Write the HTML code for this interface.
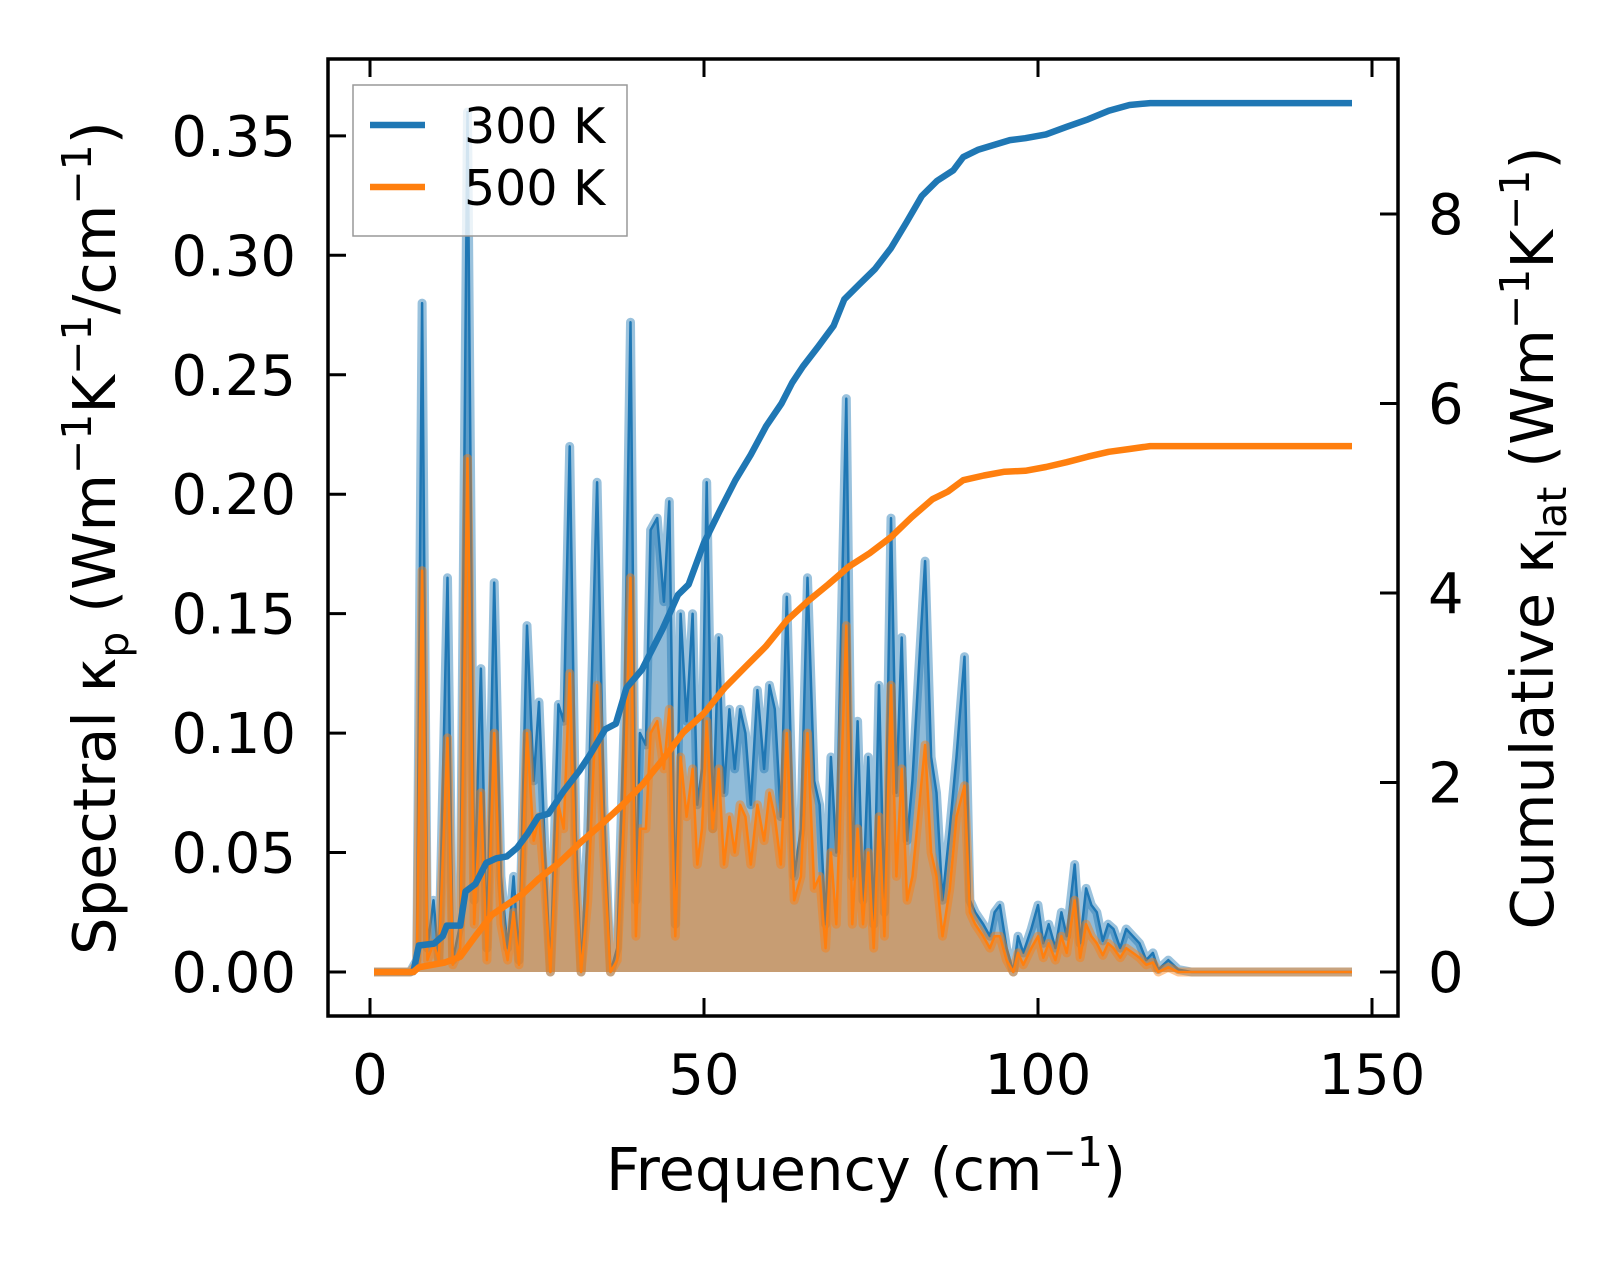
<!DOCTYPE html>
<html><head><meta charset="utf-8"><style>
body{margin:0;background:#fff}
svg text{font-family:"DejaVu Sans","Liberation Sans",sans-serif;fill:#000}
</style></head><body>
<svg id="chart" width="1623" height="1264" viewBox="0 0 1623 1264" xmlns="http://www.w3.org/2000/svg">
<defs><clipPath id="plotclip"><rect x="328" y="59" width="1070" height="957"/></clipPath></defs>
<rect x="0" y="0" width="1623" height="1264" fill="#fff"/>
<g id="marks" clip-path="url(#plotclip)"></g>
<g id="axes"></g>
<rect x="328" y="59" width="1070" height="957" fill="none" stroke="#000" stroke-width="3.5"/>
<g>
<rect x="353" y="85" width="274" height="151" fill="#fff" fill-opacity="0.8" stroke="#999" stroke-width="1.5"/>
<line x1="370" y1="125" x2="425" y2="125" stroke="#1f77b4" stroke-width="6.5"/>
<text x="464" y="143" font-size="49">300 K</text>
<line x1="370" y1="187" x2="425" y2="187" stroke="#ff7f0e" stroke-width="6.5"/>
<text x="464" y="205" font-size="49">500 K</text>
</g>
<text x="866" y="1190" font-size="59" text-anchor="middle">Frequency (cm<tspan dy="-24" font-size="41">−1</tspan><tspan dy="24">)</tspan></text>
<text transform="translate(115,538) rotate(-90)" font-size="59" text-anchor="middle">Spectral κ<tspan dy="13" font-size="41">p</tspan><tspan dy="-13"> (Wm</tspan><tspan dy="-24" font-size="41">−1</tspan><tspan dy="24">K</tspan><tspan dy="-24" font-size="41">−1</tspan><tspan dy="24">/cm</tspan><tspan dy="-24" font-size="41">−1</tspan><tspan dy="24">)</tspan></text>
<text transform="translate(1553,538) rotate(-90)" font-size="59" text-anchor="middle">Cumulative κ<tspan dy="13" font-size="41">lat</tspan><tspan dy="-13"> (Wm</tspan><tspan dy="-24" font-size="41">−1</tspan><tspan dy="24">K</tspan><tspan dy="-24" font-size="41">−1</tspan><tspan dy="24">)</tspan></text>
</svg>
<script>
const specFreq=[0.6,6,7,7.8,8.6,9.5,10.3,11.6,12.4,13.5,14.6,15.6,16.6,17.5,18.6,19.6,20.6,21.5,22.3,23.5,24.5,25.3,26.2,27,28.2,29,29.9,30.8,31.6,32.6,34,35,36,37,38.1,39,39.8,40.4,41.3,42,43,44,44.8,45.7,46.5,47.4,48.3,49,49.7,50.4,51.3,52.2,53,53.8,54.6,55.4,56.2,57,58,59,59.8,60.6,61.5,62.4,63.5,64.5,65.5,66.5,67.3,68.2,69,69.8,71.3,72.2,73,73.8,74.6,75.4,76.2,77,78,78.8,79.6,80.4,81.2,83.1,84,84.8,85.7,86.8,87.8,89,89.8,90.6,91.8,92.8,93.5,94.3,95.3,96.3,97,97.8,99,100,100.8,101.6,102.6,103.5,104.3,105.5,106.3,107.2,108,108.8,109.7,110.5,111.3,112.3,113.2,114.2,115.2,116.2,117.2,118,119.5,121,123,147];
const spec300=[0,0,0.005,0.28,0.01,0.03,0.005,0.165,0.005,0.02,0.36,0.03,0.127,0.01,0.163,0.04,0.01,0.04,0.005,0.145,0.08,0.113,0.05,0,0.112,0.105,0.22,0.06,0,0.06,0.205,0.07,0,0.01,0.11,0.272,0.03,0.1,0.095,0.185,0.19,0.155,0.197,0.02,0.15,0.105,0.15,0.07,0.085,0.205,0.06,0.14,0.075,0.11,0.085,0.11,0.1,0.07,0.118,0.085,0.12,0.11,0.065,0.157,0.04,0.06,0.165,0.08,0.07,0.02,0.09,0.05,0.24,0.04,0.105,0.03,0.09,0.02,0.12,0.025,0.19,0.075,0.14,0.055,0.08,0.172,0.09,0.075,0.03,0.06,0.09,0.132,0.03,0.025,0.02,0.015,0.025,0.028,0.01,0,0.015,0.008,0.018,0.028,0.012,0.02,0.01,0.025,0.015,0.045,0.012,0.035,0.028,0.025,0.013,0.02,0.018,0.01,0.018,0.015,0.012,0.005,0.008,0.001,0.005,0.001,0,0];
const spec500=[0,0,0.003,0.168,0.005,0.012,0.005,0.098,0.003,0.01,0.215,0.02,0.075,0.005,0.1,0.02,0.005,0.025,0.003,0.1,0.055,0.065,0.035,0,0.07,0.06,0.125,0.04,0,0.03,0.12,0.05,0,0.005,0.07,0.165,0.015,0.06,0.06,0.1,0.105,0.085,0.11,0.015,0.09,0.065,0.085,0.045,0.06,0.105,0.06,0.085,0.045,0.065,0.05,0.07,0.065,0.045,0.07,0.055,0.075,0.065,0.045,0.1,0.03,0.04,0.1,0.035,0.04,0.01,0.05,0.02,0.145,0.02,0.06,0.02,0.05,0.01,0.065,0.015,0.12,0.04,0.085,0.03,0.04,0.095,0.05,0.04,0.015,0.035,0.065,0.078,0.025,0.02,0.015,0.01,0.015,0.015,0.005,0,0.008,0.003,0.01,0.015,0.006,0.012,0.005,0.015,0.008,0.03,0.006,0.02,0.015,0.012,0.007,0.012,0.01,0.006,0.01,0.008,0.006,0.003,0.004,0,0.002,0,0,0];
const cumFreq300=[0.6,6.5,7.3,9.6,10.9,11.5,13.5,14.3,15.8,17.4,18.9,20.5,22.0,23.6,25.2,26.7,29.0,31.4,32.9,35.2,36.8,38.4,40.7,43.8,46.1,47.7,50.0,52.3,54.7,57.0,59.3,61.6,63.2,64.8,67.1,69.4,71.0,73.3,75.6,78.0,80.3,82.6,84.9,87.3,88.8,91.1,93.5,95.8,98.1,101.2,104.3,107.5,110.6,113.7,116.8,147];
const cum300=[0,0,0.28,0.3,0.38,0.49,0.49,0.85,0.93,1.15,1.2,1.22,1.31,1.46,1.64,1.67,1.91,2.13,2.29,2.56,2.62,3.0,3.19,3.62,3.98,4.09,4.53,4.86,5.19,5.46,5.76,6.0,6.22,6.39,6.6,6.82,7.1,7.26,7.42,7.64,7.91,8.19,8.35,8.46,8.6,8.68,8.73,8.78,8.8,8.84,8.92,9.0,9.09,9.15,9.17,9.17];
const cumFreq500=[0.6,6.5,7.3,11.2,13.5,15.8,18.2,20.5,22.8,25.2,28.3,31.4,34.5,37.6,40.7,43.8,46.9,50,53.1,56.2,59.3,62.4,65.5,68.6,71.7,74.8,78,81.1,84.2,86.5,88.8,91.9,95,98.1,101.2,104.3,107.5,110.6,113.7,116.8,147];
const cum500=[0,0,0.05,0.1,0.16,0.38,0.6,0.71,0.82,0.98,1.15,1.36,1.55,1.75,1.97,2.24,2.53,2.73,3.0,3.22,3.44,3.71,3.91,4.09,4.28,4.42,4.59,4.8,4.99,5.07,5.19,5.24,5.28,5.29,5.33,5.38,5.44,5.49,5.52,5.55,5.55];
const xTicks=[0,50,100,150];
const yLeftTicks=["0.00","0.05","0.10","0.15","0.20","0.25","0.30","0.35"];
const yRightTicks=[0,2,4,6,8];

const NS="http://www.w3.org/2000/svg";
function X(f){return 370+f*6.68;}
function YL(v){return 972-v*2389;}
function YR(v){return 972-v*94.75;}
function mk(tag,attrs,parent){const e=document.createElementNS(NS,tag);for(const k in attrs)e.setAttribute(k,attrs[k]);parent.appendChild(e);return e;}
const marks=document.getElementById('marks');
const axes=document.getElementById('axes');
function linePts(xs,ys,fy){return xs.map((f,i)=>X(f).toFixed(1)+','+fy(ys[i]).toFixed(1)).join(' ');}
function areaPath(xs,ys){let d='M'+X(xs[0])+','+YL(0);xs.forEach((f,i)=>{d+=' L'+X(f).toFixed(1)+','+YL(ys[i]).toFixed(1);});d+=' L'+X(xs[xs.length-1])+','+YL(0)+' Z';return d;}
[[spec300,'#1f77b4','300k'],[spec500,'#ff7f0e','500k']].forEach(([vals,col,nm])=>{
  const a=mk('path',{d:areaPath(specFreq,vals),fill:col,'fill-opacity':0.5},marks);
  
  
  const h=mk('polyline',{points:linePts(specFreq,vals,YL),fill:'none',stroke:col,'stroke-opacity':0.45,'stroke-width':9,'stroke-linejoin':'round'},marks);
  
  
  const l=mk('polyline',{points:linePts(specFreq,vals,YL),fill:'none',stroke:col,'stroke-width':2.5,'stroke-linejoin':'round'},marks);
  
  
});
const c3=mk('polyline',{points:linePts(cumFreq300,cum300,YR),fill:'none',stroke:'#1f77b4','stroke-width':6.5,'stroke-linejoin':'round'},marks);


const c5=mk('polyline',{points:linePts(cumFreq500,cum500,YR),fill:'none',stroke:'#ff7f0e','stroke-width':6.5,'stroke-linejoin':'round'},marks);



xTicks.forEach(t=>{
  const x=X(t);
  const b=mk('line',{x1:x,y1:1016,x2:x,y2:998,stroke:'#000','stroke-width':3},axes);
  
  
  const tp=mk('line',{x1:x,y1:59,x2:x,y2:77,stroke:'#000','stroke-width':3},axes);
  
  
  const tx=mk('text',{x:x,y:1094,'font-size':56,'text-anchor':'middle'},axes);
  tx.textContent=t;
  
  
});
yLeftTicks.forEach(s=>{
  const y=YL(parseFloat(s));
  const l=mk('line',{x1:328,y1:y,x2:346,y2:y,stroke:'#000','stroke-width':3},axes);
  
  
  const tx=mk('text',{x:296,y:y+20,'font-size':56,'text-anchor':'end'},axes);
  tx.textContent=s;
  
  
});
yRightTicks.forEach(t=>{
  const y=YR(t);
  const l=mk('line',{x1:1380,y1:y,x2:1398,y2:y,stroke:'#000','stroke-width':3},axes);
  
  
  const tx=mk('text',{x:1428,y:y+20,'font-size':56},axes);
  tx.textContent=t;
  
  
});
</script>
</body></html>
